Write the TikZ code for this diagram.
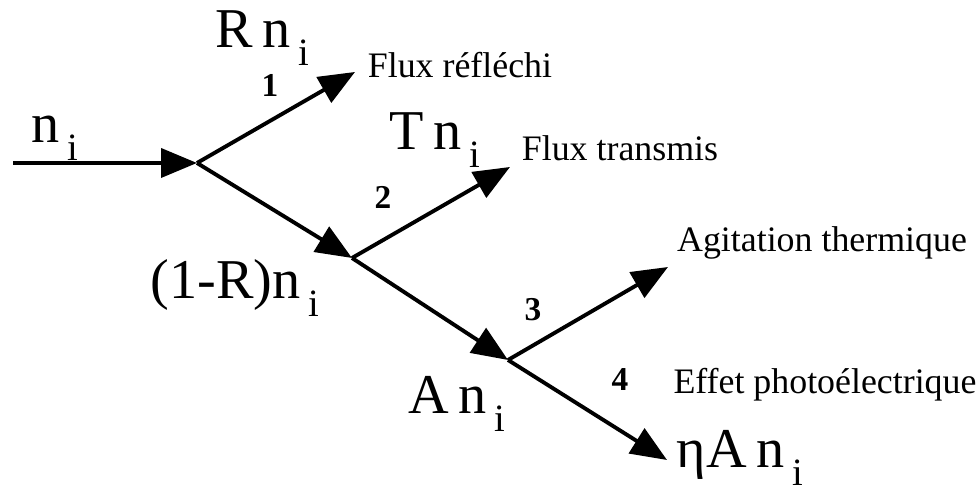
\documentclass[tikz,border=0pt]{standalone}
\usepackage{fontspec}
\setmainfont{Liberation Serif}
\usetikzlibrary{arrows.meta}

\newcommand{\ind}{\hspace{0.14em}\raisebox{-0.32em}{\fontsize{11}{11}\selectfont i}}

\begin{document}
\begin{tikzpicture}[
  flux/.style={line width=1.1pt,-{Triangle[length=3.6mm,width=2.9mm]}},
  qty/.style={font=\fontsize{16}{16}\selectfont,inner sep=0pt},
  txt/.style={font=\fontsize{10.2}{12}\selectfont,inner sep=0pt},
  num/.style={font=\fontsize{9.5}{10}\selectfont\bfseries,inner sep=0pt}]

\useasboundingbox (0,0) rectangle (9.79,4.89);

% --- branch points -----------------------------------------------------
\coordinate (in) at (0.13,3.26);
\coordinate (j1) at (1.97,3.26);
\coordinate (j2) at (3.52,2.31);
\coordinate (j3) at (5.08,1.29);
\coordinate (u1) at (3.55,4.17);
\coordinate (u2) at (5.10,3.22);
\coordinate (u3) at (6.68,2.22);
\coordinate (u4) at (6.67,0.29);

% --- flux arrows -------------------------------------------------------
\draw[flux] (in) -- (j1);
\draw[flux] (j1) -- (u1);
\draw[flux] (j1) -- (j2);
\draw[flux] (j2) -- (u2);
\draw[flux] (j2) -- (j3);
\draw[flux] (j3) -- (u3);
\draw[flux] (j3) -- (u4);

% --- quantities --------------------------------------------------------
\node[qty] (ni) at (0.55,3.51) {n\ind};
\node[qty] (Rn) at (2.62,4.51) {R\,n\ind};
\node[qty] (Tn) at (4.35,3.49) {T\,n\ind};
\node[qty] (Qn) at (2.35,2.01) {(1-R)n\ind};
\node[qty] (An) at (4.57,0.85) {A\,n\ind};
\node[qty] (En) at (7.40,0.31) {ηA\,n\ind};

% --- numbers -----------------------------------------------------------
\node[num] (k1) at (2.70,4.04) {1};
\node[num] (k2) at (3.83,2.92) {2};
\node[num] (k3) at (5.33,1.79) {3};
\node[num] (k4) at (6.20,1.09) {4};

% --- texts -------------------------------------------------------------
\node[txt] (tr) at (4.60,4.24) {Flux réfléchi};
\node[txt] (tt) at (6.20,3.41) {Flux transmis};
\node[txt] (ta) at (8.22,2.46) {Agitation thermique};
\node[txt] (te) at (8.25,1.04) {Effet photoélectrique};
\end{tikzpicture}
\end{document}
